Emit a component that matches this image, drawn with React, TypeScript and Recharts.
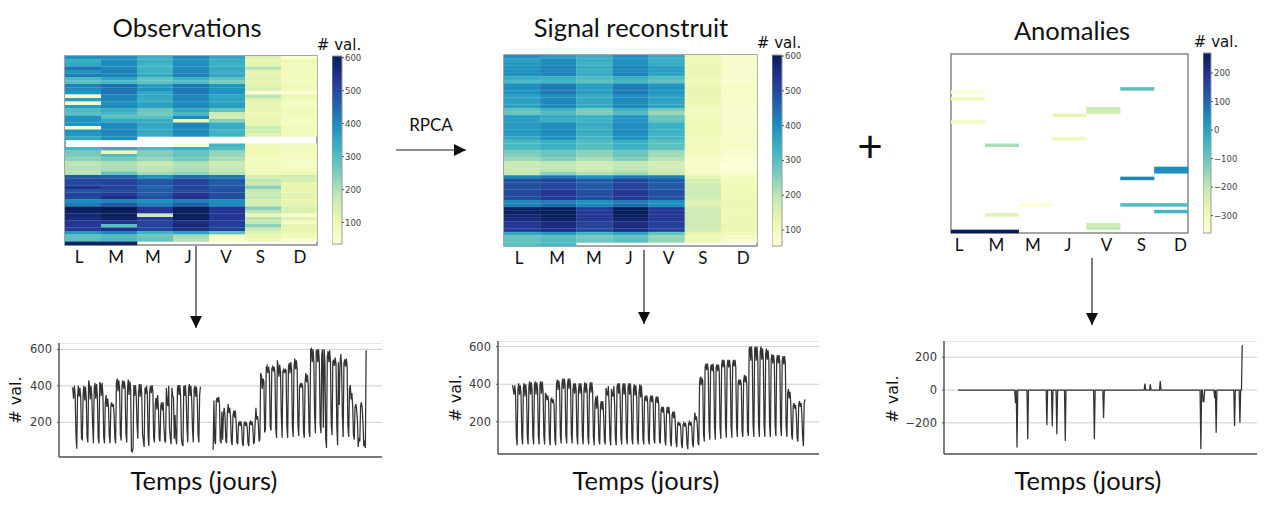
import React from "react";
import {
  ScatterChart, Scatter, XAxis, YAxis, ReferenceArea, BarChart, Bar,
  LineChart, Line, CartesianGrid,
} from "recharts";

type N = number | null;
const dayLabels = ["L", "M", "M", "J", "V", "S", "D"];
const _ = null;

const observedWeeks: N[][] = [
  [390,385,330,400,350,130,55],[340,400,340,390,335,110,105],[350,400,320,395,330,120,90],
  [430,405,325,400,345,190,85],[385,415,330,410,340,115,85],[420,410,345,415,350,120,85],
  [310,350,285,330,285,125,85],[290,310,285,300,250,115,85],[415,440,370,430,385,130,100],
  [395,430,385,425,385,140,90],[380,435,350,425,385,42,38],[60,405,345,405,350,190,110],
  [365,410,340,410,355,135,100],[65,390,355,400,360,120,70],[370,400,360,405,370,115,90],
  [300,335,270,350,280,110,95],[290,310,265,310,170,100,90],[390,300,290,400,165,115,80],
  [390,345,335,110,240,110,80],[385,405,350,405,340,115,80],[70,400,345,405,340,170,90],
  [385,410,345,400,320,160,90],[380,400,340,395,325,130,90],[350,395,_,_,_,_,_],
  [_,_,_,_,_,_,_],[_,_,_,50,320,100,80],[320,335,310,340,300,100,85],
  [260,105,245,280,230,100,85],[255,300,250,280,225,95,75],[235,265,225,265,205,90,80],
  [190,205,180,205,175,85,70],[190,205,180,200,170,85,70],[195,205,185,205,180,85,90],
  [195,280,215,235,195,95,110],[470,455,385,440,425,145,160],[500,510,470,505,470,180,155],
  [495,505,480,505,465,165,115],[540,510,450,515,475,235,115],[480,490,470,490,485,175,115],
  [505,525,470,530,490,175,120],[500,550,490,540,490,180,125],[400,410,390,415,395,145,115],
  [420,470,420,460,400,150,120],[600,605,530,600,535,240,140],[590,600,530,600,530,190,140],
  [570,600,170,600,530,110,60],[560,590,530,595,530,190,130],[535,540,510,555,520,180,75],
  [530,295,510,575,515,240,120],[525,545,505,550,510,175,120],[380,405,325,360,290,130,105],
  [285,300,270,210,65,115,95],[290,310,280,200,70,100,60],[590,590],
];

const reconstructedWeeks: N[][] = [
  [395,375,345,395,350,120,75],[370,405,345,395,345,120,80],[385,405,335,400,350,120,80],
  [390,415,345,410,370,125,80],[395,415,345,410,375,125,80],[400,415,350,415,360,125,80],
  [350,345,315,340,310,115,75],[320,325,300,320,290,110,75],[395,425,370,420,385,125,85],
  [400,430,375,430,395,130,85],[395,430,375,430,390,130,85],[370,405,350,405,370,125,80],
  [365,405,350,405,365,125,80],[365,410,355,405,360,120,80],[370,410,355,410,365,120,75],
  [295,335,270,340,270,105,80],[285,310,265,310,235,100,80],[380,355,340,390,285,110,75],
  [375,345,335,390,285,110,75],[385,405,350,405,340,115,80],[380,405,345,405,340,115,80],
  [385,405,345,405,335,110,80],[375,400,340,395,330,110,80],[355,400,330,395,325,110,80],
  [320,340,310,340,300,105,80],[320,340,305,340,300,105,85],[315,335,300,335,295,100,85],
  [265,280,250,280,230,100,75],[255,280,245,280,225,95,70],[235,255,220,255,205,90,65],
  [185,200,180,195,170,80,60],[185,195,175,195,170,80,55],[190,200,180,200,175,85,65],
  [190,250,210,230,190,90,75],[410,440,395,430,420,135,95],[490,510,475,510,475,170,105],
  [490,505,470,510,470,170,105],[490,505,470,505,470,170,110],[500,530,490,530,490,180,115],
  [500,530,490,530,490,180,115],[500,530,495,530,490,175,120],[405,425,395,425,400,150,120],
  [420,450,410,445,400,150,125],[590,600,525,600,530,180,120],[590,600,525,600,530,180,120],
  [570,600,530,590,530,180,120],[560,590,530,580,530,180,120],[530,560,510,555,520,180,125],
  [530,555,510,555,515,180,125],[525,550,505,550,510,175,120],[355,375,325,360,290,130,105],
  [285,300,270,290,235,115,95],[290,310,280,300,240,120,70],[300,320],
];

const anomalyDays = [75,77,91,116,123,129,140,178,190,244,251,264,317,320,321,335,337,361,368,371,372];
const anomalyValues = [-80,-350,-300,-215,-220,-270,-310,-300,-170,40,35,55,-360,-70,-70,-50,-260,-220,-200,270,270];
const totalDays = 373;
const anomalySeries: number[] = Array.from({ length: totalDays }, (_v, d) => {
  const i = anomalyDays.indexOf(d);
  return i >= 0 ? anomalyValues[i] : 0;
});

const palette = ["#ffffd9","#edf8b1","#c7e9b4","#7fcdbb","#41b6c4","#1d91c0","#225ea8","#253494","#081d58"];
const hex = (s: string) => [1, 3, 5].map((i) => parseInt(s.slice(i, i + 2), 16));
function colorOf(v: number, lo: number, hi: number) {
  const t = Math.max(0, Math.min(0.9999, (v - lo) / (hi - lo))) * 8;
  const i = Math.floor(t), f = t - i;
  const a = hex(palette[i]), b = hex(palette[i + 1]);
  return `rgb(${a.map((c, k) => Math.round(c + (b[k] - c) * f)).join(",")})`;
}

const cellsFromSeries = (series: N[]) =>
  series
    .map((value, d) => ({ col: (d % 7) + 0.5, row: Math.floor(d / 7) + 0.5, value }))
    .filter((p) => p.value !== null && p.value !== 0);

const lineFromSeries = (series: N[]) => series.map((value, day) => ({ day, value }));

const observedSeries = observedWeeks.flat();
const reconstructedSeries = reconstructedWeeks.flat();

const fontText = "Lato, sans-serif";
const fontPlot = "'DejaVu Sans', sans-serif";
const minus = (v: number) => String(v).replace("-", "\u2212");

function Heatmap({ left, top, w, h, series, lo, hi, ticks }: any) {
  const cw = w / 7, ch = h / 54;
  const pad = 2;
  return (
    <div style={{ position: "absolute", left: left - pad, top: top - pad }}>
      <ScatterChart width={w + pad * 2} height={h + pad + 26}
        margin={{ top: pad, right: pad, left: pad, bottom: 0 }}>
        <XAxis type="number" dataKey="col" domain={[0, 7]} ticks={ticks} interval={0}
          tickFormatter={(_v: number, i: number) => dayLabels[i]} height={26}
          axisLine={false} tickLine={false} tickMargin={0}
          tick={{ fontFamily: fontText, fontSize: 17, fill: "#111" }} />
        <YAxis type="number" dataKey="row" domain={[0, 54]} reversed hide />
        <Scatter data={cellsFromSeries(series)} isAnimationActive={false}
          shape={(p: any) => (
            <rect x={p.cx - cw / 2} y={p.cy - ch / 2} width={cw + 0.2} height={ch + 0.2}
              fill={colorOf(p.payload.value, lo, hi)} />
          )} />
        <ReferenceArea x1={0} x2={7} y1={0} y2={54} fill="none" stroke="#888" strokeWidth={1.5}
          ifOverflow="visible" />
      </ScatterChart>
    </div>
  );
}

function ColorBar({ id, left, top, w, h, lo, hi, ticks }: any) {
  const stops = palette.map((c, i) => (
    <stop key={i} offset={`${100 - (i * 100) / 8}%`} stopColor={c} />
  )).reverse();
  const pad = 7;
  return (
    <div style={{ position: "absolute", left, top: top - pad }}>
      <BarChart width={w + 40} height={h + pad * 2} data={[{ name: "bar", range: [lo, hi] }]}
        margin={{ top: pad, right: 0, left: 0, bottom: pad }} barCategoryGap={0}>
        <defs>
          <linearGradient id={id} x1="0" y1="0" x2="0" y2="1">{stops}</linearGradient>
        </defs>
        <XAxis dataKey="name" hide />
        <YAxis orientation="right" width={40} type="number" domain={[lo, hi]} ticks={ticks} interval={0}
          tickFormatter={minus} axisLine={false} tickSize={2} tickMargin={1}
          tickLine={{ stroke: "#555" }}
          tick={{ fontFamily: fontPlot, fontSize: 8.5, fill: "#444" }} />
        <Bar dataKey="range" fill={`url(#${id})`} stroke="#999" strokeWidth={1} isAnimationActive={false} />
      </BarChart>
    </div>
  );
}

function Series({ axisX, top, bottom, right, series, yDomain, yTicks, xDomain, yw = 30 }: any) {
  const h = bottom - top;
  return (
    <div style={{ position: "absolute", left: axisX - yw, top }}>
      <LineChart width={right - axisX + yw} height={h + 2} data={lineFromSeries(series)}
        margin={{ top: 0, right: 0, left: 0, bottom: 0 }}>
        <CartesianGrid horizontal vertical={false} stroke="#cfcfcf" strokeWidth={1} />
        <XAxis type="number" dataKey="day" domain={xDomain} tick={false} tickLine={false} height={2}
          axisLine={{ stroke: "#555", strokeWidth: 1.5 }} />
        <YAxis type="number" width={yw} domain={yDomain} ticks={yTicks} interval={0} tickFormatter={minus}
          axisLine={{ stroke: "#555", strokeWidth: 1.5 }} tickLine={{ stroke: "#555" }} tickSize={2} tickMargin={5}
          tick={{ fontFamily: fontPlot, fontSize: 11.5, fill: "#3a3a3a" }} />
        <Line type="linear" dataKey="value" stroke="#333" strokeWidth={1.25} dot={false}
          isAnimationActive={false} />
      </LineChart>
    </div>
  );
}

const T = ({ x, y, size, children, family = fontText, rotate = 0, color = "#111" }: any) => (
  <div style={{
    position: "absolute", left: x, top: y, transform: `translate(-50%,-50%) rotate(${rotate}deg)`,
    fontFamily: family, fontSize: size, color, whiteSpace: "nowrap", lineHeight: 1,
  }}>{children}</div>
);

const arrows = [
  { x1: 196, y1: 246, x2: 196, y2: 328 },
  { x1: 644, y1: 250, x2: 644, y2: 324 },
  { x1: 1092, y1: 258, x2: 1092, y2: 325 },
  { x1: 396, y1: 150, x2: 466, y2: 150 },
];

function Arrows() {
  return (
    <svg width={1278} height={529} style={{ position: "absolute", left: 0, top: 0, pointerEvents: "none" }}>
      {arrows.map((a, i) => {
        const vertical = a.x1 === a.x2;
        const head = vertical
          ? `${a.x2 - 6},${a.y2 - 12} ${a.x2 + 6},${a.y2 - 12} ${a.x2},${a.y2}`
          : `${a.x2 - 12},${a.y2 - 6} ${a.x2 - 12},${a.y2 + 6} ${a.x2},${a.y2}`;
        return (
          <g key={i}>
            <line x1={a.x1} y1={a.y1} x2={a.x2} y2={a.y2} stroke="#222" strokeWidth={1.2} />
            <polygon points={head} fill="#111" />
          </g>
        );
      })}
    </svg>
  );
}

export default function App() {
  return (
    <div style={{ position: "absolute", left: 0, top: 0, width: 1278, height: 529, overflow: "hidden", background: "#fff" }}>
      <style>{`.recharts-scatter, .recharts-line, .recharts-bar { filter: blur(0.6px); }
      .recharts-yAxis text { filter: blur(0.3px); }`}</style>

      <T x={187} y={28} size={25.5}>Observations</T>
      <T x={631} y={28} size={25.5}>Signal reconstruit</T>
      <T x={1072} y={31} size={25.5}>Anomalies</T>
      <T x={339} y={45} size={15} family={fontPlot}># val.</T>
      <T x={779} y={43} size={15} family={fontPlot}># val.</T>
      <T x={1216} y={42} size={15} family={fontPlot}># val.</T>
      <T x={431} y={124} size={17}>RPCA</T>
      <T x={870} y={145} size={44}>+</T>

      <Heatmap left={65} top={56} w={252} h={189} series={observedSeries} lo={35} hi={605}
        ticks={[0.39, 1.42, 2.44, 3.42, 4.47, 5.43, 6.53]} />
      <Heatmap left={504} top={55} w={253} h={191} series={reconstructedSeries} lo={54} hi={603}
        ticks={[0.42, 1.47, 2.49, 3.46, 4.55, 5.5, 6.62]} />
      <Heatmap left={951} top={54} w={237} h={179} series={anomalySeries} lo={-361} hi={270}
        ticks={[0.24, 1.34, 2.42, 3.45, 4.59, 5.62, 6.78]} />

      <ColorBar id="cbObs" left={332} top={56} w={10} h={188} lo={35} hi={605} ticks={[100, 200, 300, 400, 500, 600]} />
      <ColorBar id="cbRec" left={772} top={55} w={10} h={191} lo={54} hi={603} ticks={[100, 200, 300, 400, 500, 600]} />
      <ColorBar id="cbAno" left={1203} top={53} w={8} h={180} lo={-361} hi={270} ticks={[-300, -200, -100, 0, 100, 200]} />

      <Series axisX={59} top={343} bottom={457} right={382} series={observedSeries}
        yDomain={[10, 635]} yTicks={[200, 400, 600]} xDomain={[-16.4, 391]} />
      <Series axisX={498} top={341} bottom={454} right={819} series={reconstructedSeries}
        yDomain={[29, 630]} yTicks={[200, 400, 600]} xDomain={[-18.3, 389.8]} />
      <Series axisX={944} top={341} bottom={454} right={1257} series={anomalySeries}
        yDomain={[-390, 299]} yTicks={[-200, 0, 200]} xDomain={[-18.3, 390.3]} yw={38} />

      <T x={16} y={400} size={16} family={fontPlot} rotate={-90}># val.</T>
      <T x={456} y={398} size={16} family={fontPlot} rotate={-90}># val.</T>
      <T x={893} y={399} size={16} family={fontPlot} rotate={-90}># val.</T>

      <T x={204} y={481} size={25.5}>Temps (jours)</T>
      <T x={646} y={481} size={25.5}>Temps (jours)</T>
      <T x={1088} y={481} size={25.5}>Temps (jours)</T>
      <Arrows />
    </div>
  );
}
